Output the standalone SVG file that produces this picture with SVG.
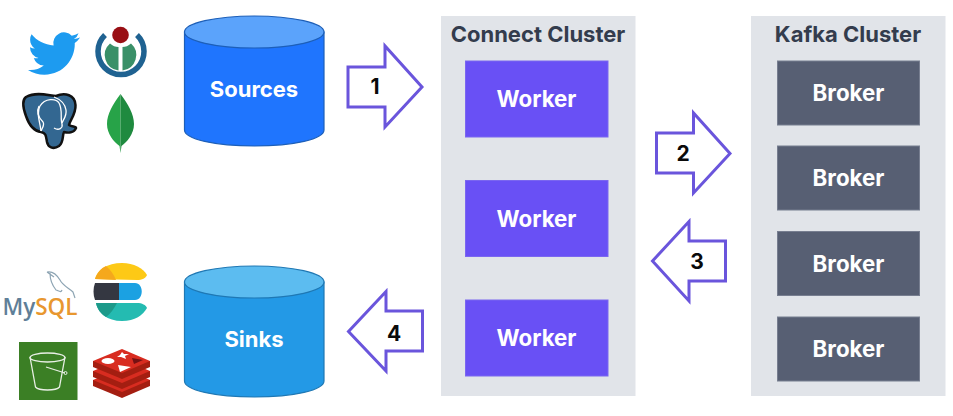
<svg xmlns="http://www.w3.org/2000/svg" width="953" height="416" viewBox="0 0 953 416">
<style>
text{font-family:Inter,"Liberation Sans",sans-serif;font-weight:700;text-anchor:middle;dominant-baseline:central}
.cluster{fill:#e1e4e9}
.title{fill:#333c4d;font-size:22px}
.worker{fill:#6950f5;stroke:#7a66f0;stroke-width:1}
.broker{fill:#575f73;stroke:#777e90;stroke-width:1}
.w{fill:#fff;font-size:22.300px}
.cyl{fill:#fff;font-size:22px}
.arrow{fill:#fff;stroke:#6a55dc;stroke-width:3}
.num{fill:#0a0a0a;font-size:21px}
.rf{fill:#d82c20}
.rs{fill:#a41e11}
</style>
<rect width="953" height="416" fill="#fff"/>
<g id="cluster-connect"><rect class="cluster" x="441" y="16" width="194.500" height="380"/><text class="title" x="538" y="33.500">Connect Cluster</text></g>
<g id="cluster-kafka"><rect class="cluster" x="751" y="16" width="194.500" height="380"/><text class="title" x="848" y="33.500">Kafka Cluster</text></g>
<g id="worker-1"><rect class="worker" x="465.500" y="61" width="142.500" height="76"/><text class="w" x="536.500" y="98.500">Worker</text></g>
<g id="worker-2"><rect class="worker" x="465.500" y="180.500" width="142.500" height="76"/><text class="w" x="536.500" y="218">Worker</text></g>
<g id="worker-3"><rect class="worker" x="465.500" y="300" width="142.500" height="76"/><text class="w" x="536.500" y="337.500">Worker</text></g>
<g id="broker-1"><rect class="broker" x="777.500" y="61" width="142" height="64"/><text class="w" x="848.500" y="92.500">Broker</text></g>
<g id="broker-2"><rect class="broker" x="777.500" y="146" width="142" height="64"/><text class="w" x="848.500" y="177.500">Broker</text></g>
<g id="broker-3"><rect class="broker" x="777.500" y="231.500" width="142" height="64"/><text class="w" x="848.500" y="263">Broker</text></g>
<g id="broker-4"><rect class="broker" x="777.500" y="317" width="142" height="64"/><text class="w" x="848.500" y="348.500">Broker</text></g>
<g id="sources">
<path d="M184.500 32V130C184.500 139 215 146 254.500 146S324 139 324 130V32Z" fill="#1f75fe" stroke="#1d5fb8" stroke-width="1.200"/>
<ellipse cx="254.250" cy="32" rx="69.750" ry="16" fill="#5ba3fb" stroke="#1d5fb8" stroke-width="1.200"/>
<text class="cyl" x="254" y="89">Sources</text></g>
<g id="sinks">
<path d="M184.500 282V381C184.500 390 215 397 254.500 397S324 390 324 381V282Z" fill="#2399e6" stroke="#1f78b4" stroke-width="1.200"/>
<ellipse cx="254.250" cy="282" rx="69.750" ry="16" fill="#5cbcf0" stroke="#1f78b4" stroke-width="1.200"/>
<text class="cyl" x="254" y="339">Sinks</text></g>
<g id="connectors">
<g id="arrow-1"><path class="arrow" d="M348 67H385V46L422 87L385 127V107H348Z"/><text class="num" x="375" y="86">1</text></g>
<g id="arrow-2"><path class="arrow" d="M656.500 133H693.500V113L730 153.500L693.500 193V173H656.500Z"/><text class="num" x="683" y="153">2</text></g>
<g id="arrow-3"><path class="arrow" d="M725.500 241H689V221.500L652.500 261L689 301V281H725.500Z"/><text class="num" x="697" y="261">3</text></g>
<g id="arrow-4"><path class="arrow" d="M422.500 311H386V291.500L348.500 331.500L386 371V351H422.500Z"/><text class="num" x="394" y="333">4</text></g>
</g>
<g id="logo-twitter"><path transform="translate(28 27.500) scale(2.170)" fill="#1d9bf0" d="M23.953 4.57a10 10 0 01-2.825.775 4.958 4.958 0 002.163-2.723c-.951.555-2.005.959-3.127 1.184a4.92 4.92 0 00-8.384 4.482C7.690 8.095 4.067 6.130 1.640 3.162a4.822 4.822 0 00-.666 2.475c0 1.710.870 3.213 2.188 4.096a4.904 4.904 0 01-2.228-.616v.060a4.923 4.923 0 003.946 4.827 4.996 4.996 0 01-2.212.085 4.936 4.936 0 004.604 3.417 9.867 9.867 0 01-6.102 2.105c-.390 0-.779-.023-1.170-.067a13.995 13.995 0 007.557 2.209c9.053 0 13.998-7.496 13.998-13.985 0-.210 0-.420-.015-.630A9.935 9.935 0 0024 4.590z"/></g>
<g id="logo-wikimedia">
<path d="M105 35A23 23 0 1 0 137 35" fill="none" stroke="#1f6291" stroke-width="5.500"/>
<path d="M118.500 47V70.500A15.500 15.500 0 0 1 110 43.500Q114 47 118.500 47Z" fill="#3a9068"/>
<path d="M122.500 47V70.500A15.500 15.500 0 0 0 131 43.500Q127 47 122.500 47Z" fill="#3a9068"/>
<circle cx="120.500" cy="35" r="8.300" fill="#990f14"/>
</g>
<g id="logo-postgresql">
<path d="M26 97C37 91 50 96 56 96C65 92 75 95 75.500 105C76 114 70 120 69 125C72 127 76 126 76 128C74 133 68 133 64 132C62 136 64 142 59 146C53 150 48 147 47 142C46 136 46 133 41 132C34 131 29 125 26 116C23 108 22 100 26 97Z" fill="#336791" stroke="#111" stroke-width="2.500" stroke-linejoin="round"/>
<path d="M41 131C40 122 36 113 40 106C45 98 56 98 59 103C63 110 60 118 62 124C63 128 59 131 54 128" fill="none" stroke="#fff" stroke-width="1.300"/>
<path d="M54 97C62 100 65 104 66 110C67 116 63 120 62 123M39 106C36 112 39 118 43 122C45 125 42 128 41 131" fill="none" stroke="#fff" stroke-width="1.300"/>
</g>
<g id="logo-mongodb">
<path d="M120.500 94C113 104 107 114 107 124C107 134 114 142 119.500 146L120.500 153Z" fill="#27a348"/>
<path d="M120.500 94C128 104 134 114 134 124C134 134 127 142 121.500 146L120.500 153Z" fill="#1f8a3f"/>
</g>
<g id="logo-mysql">
<path d="M47 272C52 271 57 275 60 280C63 286 69 288 73 292L75 298M47 272L54 277M50 273C50 280 52 285 56 290C59 291 61 293 62 290" fill="none" stroke="#8da4b3" stroke-width="1.200"/>
<text x="40" y="306" style="font-family:'Open Sans','Liberation Sans',sans-serif;font-size:22.500px;font-weight:600"><tspan fill="#5f7f98">My</tspan><tspan fill="#e8972f">SQL</tspan></text>
</g>
<g id="logo-elastic">
<path d="M95 279C97 270 107 263 122 263C134 263 143 268 147 275C146 278 142 280 137 280Z" fill="#fdc916"/>
<path d="M95 279C97 273 101 268 106 266C111 270 114 275 116 280Z" fill="#f5a81c"/>
<path d="M95 283H119V300H95C93 295 93 288 95 283Z" fill="#343741"/>
<path d="M119 283H135C144 283 144 300 135 300H119Z" fill="#1ba1e2"/>
<path d="M96 303H137C142 303 146 305 147 308C143 315 135 321 122 321C107 321 98 313 96 303Z" fill="#24bbb1"/>
<path d="M96 303H117C114 309 110 314 106 317C101 314 97 309 96 303Z" fill="#1c9a8a"/>
</g>
<g id="logo-s3">
<rect x="19" y="342" width="58.500" height="58" fill="#3b7f25"/>
<path d="M30 357L35.500 387C39 391 56 391 59.500 387L65 357" fill="none" stroke="#e8efe5" stroke-width="1.300"/>
<ellipse cx="47.500" cy="357.500" rx="17.500" ry="4.500" fill="none" stroke="#e8efe5" stroke-width="1.300"/>
<path d="M46 367L65 373" stroke="#e8efe5" stroke-width="1.300"/>
<circle cx="65.500" cy="373" r="1.500" fill="none" stroke="#e8efe5" stroke-width="1"/>
</g>
<g id="logo-redis">
<path class="rs" d="M93 380V386L122 398L150 386V380Z"/>
<path class="rf" d="M93 380L122 368L150 380L122 392Z"/>
<path class="rs" d="M93 371V377L122 389L150 377V371Z"/>
<path class="rf" d="M93 371L122 359L150 371L122 383Z"/>
<path class="rs" d="M93 361V367L122 379L150 367V361Z"/>
<path class="rf" d="M93 361L122 349L150 361L122 373Z"/>
<ellipse cx="108" cy="361" rx="6.500" ry="3" fill="#fff"/>
<path d="M118 365L131 367L120 372Z" fill="#fff"/>
<path d="M122 352L124 354L129 354L125 356L126 359L121 357L117 357L120 355Z" fill="#fff"/>
<path d="M132 358L143 360L134 364Z" fill="#741113"/>
</g>
</svg>
